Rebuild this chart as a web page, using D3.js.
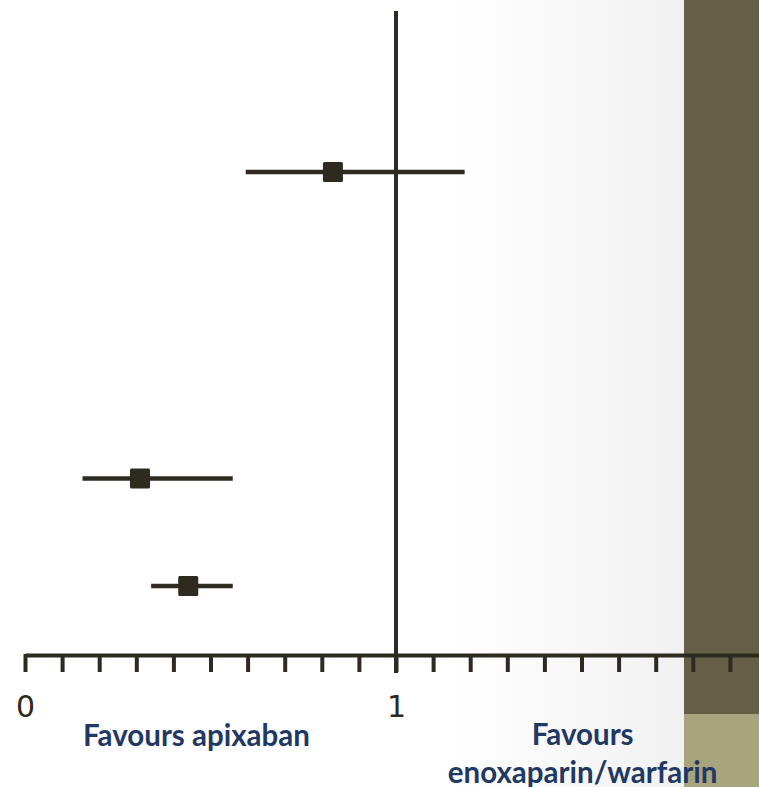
<!DOCTYPE html>
<html>
<head>
<meta charset="utf-8">
<script src="https://cdn.jsdelivr.net/npm/d3@7/dist/d3.min.js"></script>
<style>
  html, body { margin: 0; padding: 0; background: #ffffff; }
  svg { display: block; }
</style>
</head>
<body>
<div id="chart"></div>
<script>
// Outcomes, grouped into an efficacy block and a safety block
const outcomes = ["Recurrent VTE or VTE-related death", "Major bleeding", "Major or CRNM bleeding"];
const outcomeGroup = [0, 1, 1];
const rowInGroup = [0, 0, 1];
// Relative risk estimates and 95% confidence limits
const estimate = [0.83, 0.31, 0.44];
const lower = [0.595, 0.155, 0.34];
const upper = [1.185, 0.56, 0.56];
// Axis ticks
const tickValues = d3.range(0, 21).map(i => i / 10);
const tickLabels = [0, 1, 2];
// Direction labels
const favourLeft = ["Favours apixaban"];
const favourRight = ["Favours", "enoxaparin/warfarin"];

const W = 759, H = 787;
const ink = "#2e2a1f";
const navy = "#1f3864";

const svg = d3.select("#chart").append("svg")
  .attr("width", W).attr("height", H);

// Background: white fading to light grey toward the side panel
const defs = svg.append("defs");
const grad = defs.append("linearGradient")
  .attr("id", "bgFade").attr("x1", "0").attr("x2", "1").attr("y1", "0").attr("y2", "0");
grad.append("stop").attr("offset", "0").attr("stop-color", "#ffffff");
grad.append("stop").attr("offset", "0.66").attr("stop-color", "#ffffff");
grad.append("stop").attr("offset", "1").attr("stop-color", "#f1f1f1");

svg.append("rect").attr("width", W).attr("height", H).attr("fill", "#ffffff");
svg.append("rect").attr("x", 0).attr("y", 0).attr("width", 684).attr("height", H)
  .attr("fill", "url(#bgFade)");

// Side panel of the slide
svg.append("rect").attr("x", 684).attr("y", 0).attr("width", W - 684).attr("height", 714)
  .attr("fill", "#665e47");
svg.append("rect").attr("x", 684).attr("y", 714).attr("width", W - 684).attr("height", H - 714)
  .attr("fill", "#a8a57d");

// Scales
const x = d3.scaleLinear().domain([0, 2]).range([25, 767]);
const axisY = 655;
const yTop = 172, groupGap = 306.5, rowStep = 107.5;
const yPos = i => yTop + outcomeGroup[i] * groupGap + rowInGroup[i] * rowStep;

// Axis
const axis = d3.axisBottom(x)
  .tickValues(tickValues)
  .tickSize(17)
  .tickSizeOuter(0)
  .tickFormat(d => tickLabels.includes(d) ? String(d) : "");

const gAxis = svg.append("g").attr("transform", `translate(0,${axisY})`).call(axis);
gAxis.select(".domain").attr("stroke", ink).attr("stroke-width", 4);
gAxis.selectAll(".tick line").attr("stroke", ink).attr("stroke-width", 4).attr("y1", -1);
gAxis.selectAll(".tick text")
  .attr("fill", ink)
  .attr("font-family", "DejaVu Sans")
  .attr("font-size", 30)
  .attr("dy", null)
  .attr("y", 62);

// Line of no effect
svg.append("line")
  .attr("x1", x(1)).attr("x2", x(1))
  .attr("y1", 11).attr("y2", axisY + 18)
  .attr("stroke", ink).attr("stroke-width", 4);

// Confidence intervals
const idx = d3.range(outcomes.length);
svg.append("g").selectAll("line").data(idx).join("line")
  .attr("x1", i => x(lower[i])).attr("x2", i => x(upper[i]))
  .attr("y1", i => yPos(i)).attr("y2", i => yPos(i))
  .attr("stroke", ink).attr("stroke-width", 4.5);

// Point estimates
const sq = 20;
svg.append("g").selectAll("rect").data(idx).join("rect")
  .attr("x", i => x(estimate[i]) - sq / 2)
  .attr("y", i => yPos(i) - sq / 2)
  .attr("width", sq).attr("height", sq)
  .attr("rx", 1.5)
  .attr("fill", ink);

// Direction labels
const labelFont = "Lato, 'Open Sans', sans-serif";
const labelSize = 29.5;
svg.append("text")
  .attr("x", x(0.462)).attr("y", 746)
  .attr("text-anchor", "middle")
  .attr("font-family", labelFont).attr("font-weight", 700).attr("font-size", labelSize)
  .attr("fill", navy)
  .text(favourLeft[0]);

const tr = svg.append("text")
  .attr("text-anchor", "middle")
  .attr("font-family", labelFont).attr("font-weight", 700).attr("font-size", labelSize)
  .attr("fill", navy);
favourRight.forEach((t, k) => {
  tr.append("tspan").attr("x", x(1.503)).attr("y", 745 + k * 38).text(t);
});
</script>
</body>
</html>
